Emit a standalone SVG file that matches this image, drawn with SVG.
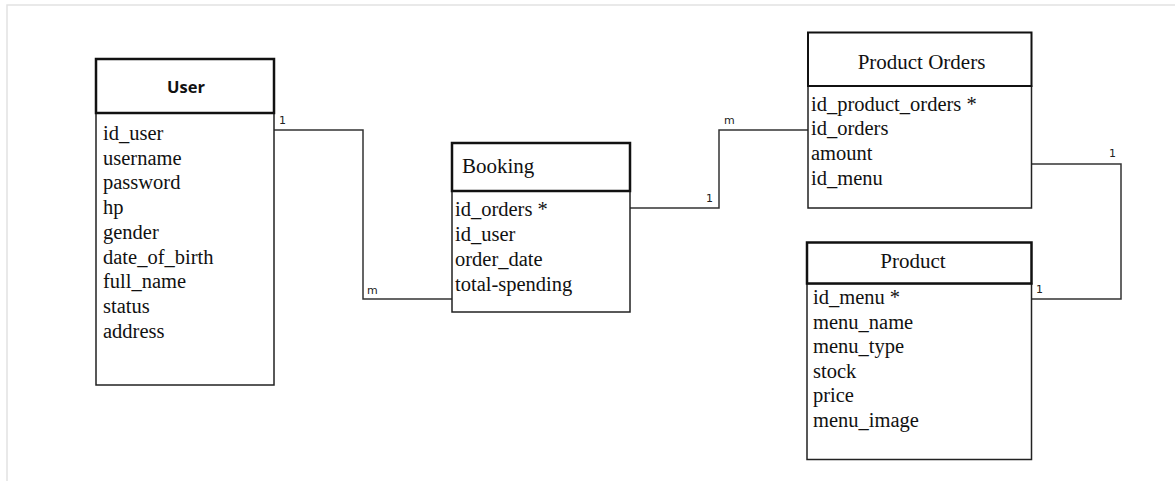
<svg xmlns="http://www.w3.org/2000/svg" width="1175" height="481" viewBox="0 0 1175 481">
<style>
.bg{fill:#fff}
.frame{fill:none;stroke:#e2e2e2;stroke-width:1.5}
.head{fill:#fff;stroke:#111;stroke-width:2.5}
.body{fill:#fff;stroke:#222;stroke-width:1.5}
.attr{font-family:"Liberation Serif","Times New Roman",serif;font-size:20.5px;fill:#111}
.title{font-family:"Liberation Serif","Times New Roman",serif;font-size:21px;fill:#111}
.titleb{font-family:"Open Sans","DejaVu Sans",sans-serif;font-weight:700;font-size:16.5px;fill:#111}
.conn{fill:none;stroke:#333;stroke-width:1.5}
.lbl{font-family:"DejaVu Sans","Liberation Sans",sans-serif;font-size:11px;fill:#222}
</style>
<rect class="bg" x="0" y="0" width="1175" height="481"/>
<rect class="frame" x="7" y="5" width="1180" height="490"/>
<g id="connectors">
<polyline class="conn" points="274,130 363,130 363,299 453,299"/>
<polyline class="conn" points="630,208 719,208 719,130 808,130"/>
<polyline class="conn" points="1031,164 1121,164 1121,299 1031,299"/>
<text class="lbl" x="279" y="124">1</text>
<text class="lbl" x="367" y="294">m</text>
<text class="lbl" x="706" y="202">1</text>
<text class="lbl" x="724" y="124">m</text>
<text class="lbl" x="1109" y="157">1</text>
<text class="lbl" x="1036" y="293">1</text>
</g>
<g id="user">
<rect class="body" x="96" y="113" width="178" height="272"/>
<rect class="head" x="96" y="59" width="178" height="54"/>
<text class="titleb" x="186" y="93" text-anchor="middle">User</text>
<text class="attr" x="103" y="140">id_user</text>
<text class="attr" x="103" y="164.7">username</text>
<text class="attr" x="103" y="189.4">password</text>
<text class="attr" x="103" y="214.1">hp</text>
<text class="attr" x="103" y="238.8">gender</text>
<text class="attr" x="103" y="263.5">date_of_birth</text>
<text class="attr" x="103" y="288.2">full_name</text>
<text class="attr" x="103" y="312.9">status</text>
<text class="attr" x="103" y="337.6">address</text>
</g>
<g id="booking">
<rect class="body" x="452" y="191" width="178" height="121"/>
<rect class="head" x="452" y="143" width="178" height="48"/>
<text class="title" x="462" y="173">Booking</text>
<text class="attr" x="455" y="216">id_orders *</text>
<text class="attr" x="455" y="241">id_user</text>
<text class="attr" x="455" y="265.5">order_date</text>
<text class="attr" x="455" y="290.5">total-spending</text>
</g>
<g id="product-orders">
<rect class="body" x="808" y="86" width="223.5" height="122"/>
<rect class="head" x="808" y="32.5" width="223.5" height="53.5" style="stroke-width:2"/>
<text class="title" x="921.5" y="69" text-anchor="middle">Product Orders</text>
<text class="attr" x="811" y="110.5">id_product_orders *</text>
<text class="attr" x="811" y="135">id_orders</text>
<text class="attr" x="811" y="160">amount</text>
<text class="attr" x="811" y="185">id_menu</text>
</g>
<g id="product">
<rect class="body" x="807" y="283.5" width="224.5" height="176"/>
<rect class="head" x="807" y="242.5" width="224.5" height="41"/>
<text class="title" x="913" y="268" text-anchor="middle">Product</text>
<text class="attr" x="813" y="304">id_menu *</text>
<text class="attr" x="813" y="328.5">menu_name</text>
<text class="attr" x="813" y="353">menu_type</text>
<text class="attr" x="813" y="377.5">stock</text>
<text class="attr" x="813" y="402">price</text>
<text class="attr" x="813" y="426.5">menu_image</text>
</g>
</svg>
